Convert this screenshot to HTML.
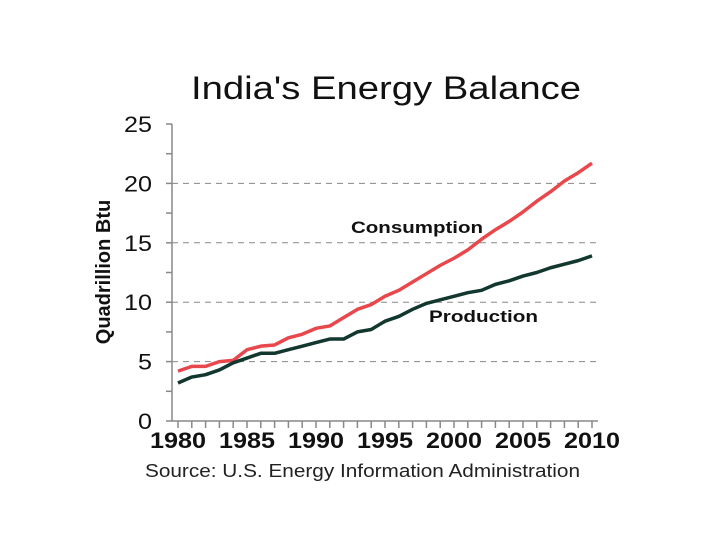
<!DOCTYPE html>
<html><head><meta charset="utf-8"><style>
body{margin:0;background:#fff;width:720px;height:540px;overflow:hidden;font-family:"Liberation Sans",sans-serif}
</style></head><body>
<svg width="720" height="540" id="chart" font-family="Liberation Sans, sans-serif">
<text x="191" y="99" font-size="32" textLength="390" lengthAdjust="spacingAndGlyphs" fill="#111">India's Energy Balance</text>
<text transform="translate(110,272) rotate(-90)" font-size="20" font-weight="bold" text-anchor="middle" fill="#111">Quadrillion Btu</text>
<text x="145" y="477" font-size="18" textLength="435" lengthAdjust="spacingAndGlyphs" fill="#222">Source:  U.S. Energy Information Administration</text>
<g id="grid"></g><g id="axes"></g><g id="series"></g>
<text x="351" y="233" font-size="17" font-weight="bold" fill="#111" textLength="132" lengthAdjust="spacingAndGlyphs">Consumption</text>
<text x="429" y="322" font-size="17" font-weight="bold" fill="#111" textLength="109" lengthAdjust="spacingAndGlyphs">Production</text>
</svg>
<script>
const years=[1980,1981,1982,1983,1984,1985,1986,1987,1988,1989,1990,1991,1992,1993,1994,1995,1996,1997,1998,1999,2000,2001,2002,2003,2004,2005,2006,2007,2008,2009,2010];
const consumption=[4.2,4.6,4.6,5.0,5.1,6.0,6.3,6.4,7.0,7.3,7.8,8.0,8.7,9.4,9.8,10.5,11.0,11.7,12.4,13.1,13.7,14.4,15.3,16.1,16.8,17.6,18.5,19.3,20.2,20.9,21.7];
const production=[3.2,3.7,3.9,4.3,4.9,5.3,5.7,5.7,6.0,6.3,6.6,6.9,6.9,7.5,7.7,8.4,8.8,9.4,9.9,10.2,10.5,10.8,11.0,11.5,11.8,12.2,12.5,12.9,13.2,13.5,13.9];
const yTicks=[0,5,10,15,20,25];
const xLabels=[1980,1985,1990,1995,2000,2005,2010];
const NS="http://www.w3.org/2000/svg";
const x=v=>178+(v-1980)*(592-178)/30;
const y=v=>421-v*(421-124)/25;
function mk(tag,attrs,parent,text){const e=document.createElementNS(NS,tag);for(const k in attrs)e.setAttribute(k,attrs[k]);if(text!==undefined)e.textContent=text;document.getElementById(parent).appendChild(e);return e;}
yTicks.forEach(t=>{
  if(t>0&&t<25){const g=mk('line',{x1:172,x2:598,y1:y(t),y2:y(t),stroke:'#888','stroke-dasharray':'6,5','stroke-width':1},'grid');
  
  }
  const l=mk('text',{x:152,y:y(t)+8,'font-size':22,'text-anchor':'end',fill:'#111',textLength:String(t).length*14,lengthAdjust:'spacingAndGlyphs'},'axes',String(t));
  
  
});
for(let v=0;v<=25;v+=2.5){const tk=mk('line',{x1:166,x2:172,y1:y(v),y2:y(v),stroke:'#888','stroke-width':1.5},'axes');

}
const ya=mk('line',{x1:172,x2:172,y1:124,y2:421,stroke:'#888','stroke-width':1.5},'axes');


const xa=mk('line',{x1:172,x2:598,y1:421,y2:421,stroke:'#888','stroke-width':1.5},'axes');


years.forEach(yr=>{const tk=mk('line',{x1:x(yr),x2:x(yr),y1:421,y2:428,stroke:'#888','stroke-width':1.5},'axes');

});
xLabels.forEach(yr=>{const l=mk('text',{x:x(yr)-28,y:448,'font-size':22,fill:'#111','font-weight':'bold',textLength:56,lengthAdjust:'spacingAndGlyphs'},'axes',String(yr));

});
function line(vals,color,name){const p=mk('polyline',{points:vals.map((v,i)=>x(years[i])+','+y(v)).join(' '),fill:'none',stroke:color,'stroke-width':3.5,'stroke-linejoin':'round'},'series');

}
line(consumption,'#e8474c','consumption-line');
line(production,'#12372e','production-line');
</script>
</body></html>
